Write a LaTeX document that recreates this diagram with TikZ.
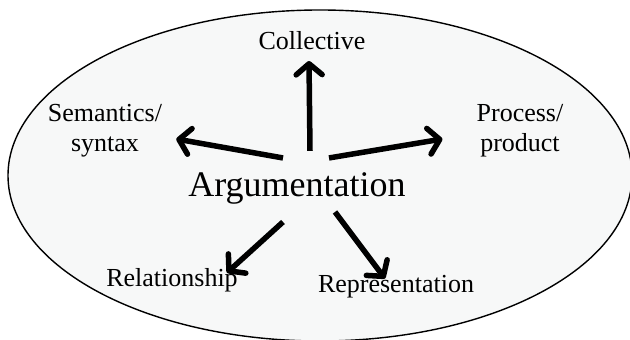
\documentclass[tikz,border=0pt]{standalone}
\usepackage{fontspec}
\setmainfont{Liberation Serif}
\usepackage{xcolor}
\usetikzlibrary{arrows.meta}
\definecolor{shade}{RGB}{247,248,248}

\begin{document}
\begin{tikzpicture}[x=1pt,y=1pt,
  lbl/.style={inner sep=0pt,font=\fontsize{26}{30}\selectfont,align=center},
  spoke/.style={line width=5.5pt,-{Straight Barb[length=11pt,width=26pt,round]}}]
  % page 630 x 340, y measured from the bottom
  \useasboundingbox (0,0) rectangle (630,340);
  \filldraw[fill=shade,draw=black,line width=1.4pt] (320,164.5) ellipse [x radius=312,y radius=165.5];
  \node[inner sep=0pt,anchor=base,font=\fontsize{36}{40}\selectfont] (arg) at (297,143) {Argumentation};
  \node[lbl,anchor=base] (coll) at (312,290) {Collective};
  \node[lbl] (sem) at (105,209) {Semantics/\\syntax};
  \node[lbl] (proc) at (520,209) {Process/\\product};
  \node[lbl,anchor=base] (rel) at (172,53) {Relationship};
  \node[lbl,anchor=base] (rep) at (396,47) {Representation};
  % tails of the spokes
  \coordinate (t1) at ([shift={(13pt,22pt)}]arg.north);
  \coordinate (t2) at ([shift={(-14pt,15pt)}]arg.north);
  \coordinate (t3) at ([shift={(32pt,15pt)}]arg.north);
  \coordinate (t4) at ([shift={(-14pt,-17pt)}]arg.south);
  \coordinate (t5) at ([shift={(38pt,-7pt)}]arg.south);
  \draw[spoke] (t1) -- ([shift={(-3pt,-11pt)}]coll.base);
  \draw[spoke] (t2) -- ([shift={(14pt,-8pt)}]sem.east);
  \draw[spoke] (t3) -- ([shift={(-34pt,-8pt)}]proc.west);
  \draw[spoke] (t4) -- ([shift={(-11pt,-4pt)}]rel.north east);
  \draw[spoke] (t5) -- ([shift={(-11pt,-3pt)}]rep.north);
\end{tikzpicture}
\end{document}
